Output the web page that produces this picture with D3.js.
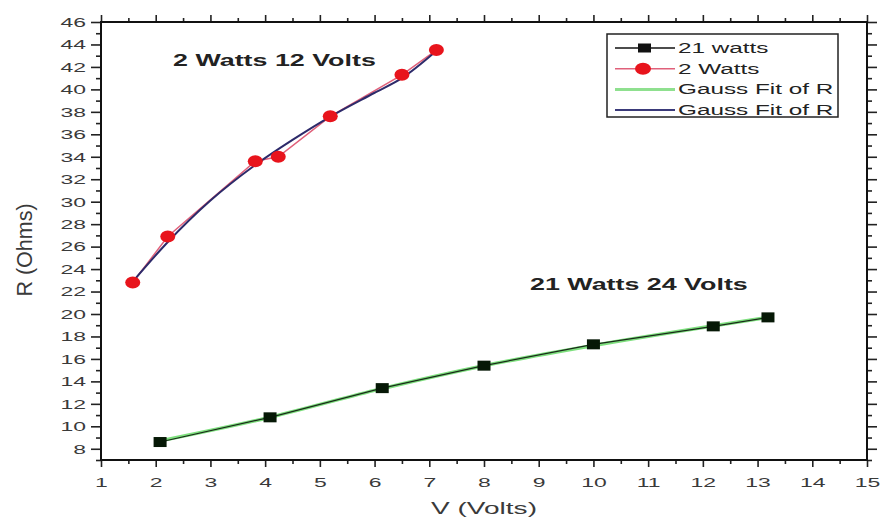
<!DOCTYPE html>
<html>
<head>
<meta charset="utf-8">
<script src="https://cdn.jsdelivr.net/npm/d3@7"></script>
<style>
  body { margin: 0; background: #fff; }
  text { font-family: Arial, "Liberation Sans", sans-serif; }
</style>
</head>
<body>
<svg id="chart" width="881" height="521"></svg>
<script>
const vWatts21 = [2.08, 4.09, 6.14, 8.0, 10.0, 12.19, 13.19];
const rWatts21 = [8.6, 10.8, 13.4, 15.4, 17.3, 18.9, 19.7];
const vWatts2 = [1.58, 2.22, 3.82, 4.24, 5.19, 6.5, 7.13];
const rWatts2 = [22.8, 26.9, 33.6, 34.0, 37.6, 41.3, 43.5];

// fitted curves
const vFit21 = [2.08, 4.0, 6.0, 8.0, 10.0, 12.0, 13.19];
const rFit21 = [8.7, 10.7, 13.2, 15.4, 17.2, 18.8, 19.7];
const vFit2 = [1.6, 2.2, 3.0, 3.8, 4.5, 5.2, 6.0, 6.5, 7.1];
const rFit2 = [23.0, 26.3, 30.1, 33.2, 35.5, 37.6, 39.7, 41.0, 43.3];

const xTicks = d3.range(1, 16);
const yTicks = d3.range(8, 47, 2);
const legendLabels = ['21 watts', '2 Watts', 'Gauss Fit of R', 'Gauss Fit of R'];

const svg = d3.select('#chart');
const plotL = 101, plotR = 867, plotT = 22, plotB = 460;
const SX = 1.7; // the source figure is stretched sideways, text too

const x = d3.scaleLinear().domain([1, 15]).range([plotL, plotR]);
const y = d3.scaleLinear().domain([7, 46]).range([plotB, plotT]);

const tickColor = '#222';
const labelColor = '#3a3a3a';

// widen text around its anchor point
function stretch(sel) {
  sel.each(function() {
    const t = d3.select(this);
    const tx = +t.attr('x') || 0, ty = +t.attr('y') || 0;
    t.attr('x', null).attr('y', null)
      .attr('transform', `translate(${tx},${ty}) scale(${SX},1)`);
  });
  return sel;
}

function drawAxis(axis, transform, showLabels) {
  const g = svg.append('g').attr('transform', transform).call(axis);
  g.select('.domain').remove();
  g.selectAll('line').attr('stroke', tickColor).attr('stroke-width', 1.6);
  g.selectAll('text').attr('font-size', 13.5).attr('fill', labelColor);
  if (!showLabels) g.selectAll('text').remove();
  else stretch(g.selectAll('text'));
  return g;
}

// minor ticks at the half steps
const xMinor = d3.range(1.5, 15, 1);
const yMinor = d3.range(7, 46, 1).filter(d => d % 2 === 1);

drawAxis(d3.axisBottom(x).tickValues(xTicks).tickSize(7).tickPadding(10).tickFormat(d3.format('d')), `translate(0,${plotB})`, true);
drawAxis(d3.axisBottom(x).tickValues(xMinor).tickSize(4), `translate(0,${plotB})`, false);
drawAxis(d3.axisTop(x).tickValues(xTicks).tickSize(7), `translate(0,${plotT})`, false);
drawAxis(d3.axisTop(x).tickValues(xMinor).tickSize(4), `translate(0,${plotT})`, false);
drawAxis(d3.axisLeft(y).tickValues(yTicks).tickSize(10).tickPadding(5).tickFormat(d3.format('d')), `translate(${plotL},0)`, true);
drawAxis(d3.axisLeft(y).tickValues(yMinor).tickSize(5), `translate(${plotL},0)`, false);
drawAxis(d3.axisRight(y).tickValues(yTicks).tickSize(10), `translate(${plotR},0)`, false);
drawAxis(d3.axisRight(y).tickValues(yMinor).tickSize(5), `translate(${plotR},0)`, false);

// frame
svg.append('rect')
  .attr('x', plotL).attr('y', plotT)
  .attr('width', plotR - plotL).attr('height', plotB - plotT)
  .attr('fill', 'none').attr('stroke', '#111').attr('stroke-width', 2);

// axis titles
stretch(svg.append('text')
  .attr('x', (plotL + plotR) / 2).attr('y', 514)
  .attr('text-anchor', 'middle').attr('font-size', 16.5).attr('fill', labelColor)
  .text('V (Volts)'));
svg.append('text')
  .attr('transform', `translate(32,250) rotate(-90)`)
  .attr('text-anchor', 'middle').attr('font-size', 21.5).attr('fill', labelColor)
  .text('R (Ohms)');

const line = d3.line().x(d => x(d[0])).y(d => y(d[1]));
const smooth = d3.line().x(d => x(d[0])).y(d => y(d[1])).curve(d3.curveMonotoneX);

const d21 = vWatts21.map((v, i) => [v, rWatts21[i]]);
const d2 = vWatts2.map((v, i) => [v, rWatts2[i]]);
const f21 = vFit21.map((v, i) => [v, rFit21[i]]);
const f2 = vFit2.map((v, i) => [v, rFit2[i]]);

// green fit under black series
svg.append('path').attr('d', smooth(f21))
  .attr('fill', 'none').attr('stroke', '#7ee07e').attr('stroke-width', 3.5);
svg.append('path').attr('d', line(d21))
  .attr('fill', 'none').attr('stroke', '#1a2a1a').attr('stroke-width', 1.2);
svg.selectAll('.sq').data(d21).enter().append('rect')
  .attr('x', d => x(d[0]) - 6.5).attr('y', d => y(d[1]) - 5)
  .attr('width', 13).attr('height', 10)
  .attr('fill', '#061806');

// red series and navy fit
svg.append('path').attr('d', line(d2))
  .attr('fill', 'none').attr('stroke', '#e0607a').attr('stroke-width', 1.5);
svg.append('path').attr('d', smooth(f2))
  .attr('fill', 'none').attr('stroke', '#2d2a6a').attr('stroke-width', 2);
svg.selectAll('.dot').data(d2).enter().append('ellipse')
  .attr('cx', d => x(d[0])).attr('cy', d => y(d[1]))
  .attr('rx', 7.5).attr('ry', 6)
  .attr('fill', '#e8141c');

// annotations
stretch(svg.append('text').attr('x', 173).attr('y', 66)
  .attr('font-size', 15.8).attr('font-weight', 'bold').attr('fill', '#222')
  .text('2 Watts 12 Volts'));
stretch(svg.append('text').attr('x', 530).attr('y', 290)
  .attr('font-size', 15.8).attr('font-weight', 'bold').attr('fill', '#222')
  .text('21 Watts 24 Volts'));

// legend
const lg = svg.append('g');
lg.append('rect').attr('x', 607).attr('y', 34).attr('width', 231).attr('height', 83)
  .attr('fill', '#fff').attr('stroke', '#222').attr('stroke-width', 1.5);
const legendStyles = [
  { stroke: '#111', width: 1.5, marker: 'square' },
  { stroke: '#e0607a', width: 1.5, marker: 'circle' },
  { stroke: '#8fe08f', width: 3, marker: null },
  { stroke: '#3a3a7a', width: 2, marker: null }
];
legendLabels.forEach((label, i) => {
  const cy = 48 + i * 20.7;
  const s = legendStyles[i];
  lg.append('line').attr('x1', 615).attr('x2', 675).attr('y1', cy).attr('y2', cy)
    .attr('stroke', s.stroke).attr('stroke-width', s.width);
  if (s.marker === 'square') {
    lg.append('rect').attr('x', 638).attr('y', cy - 4.5).attr('width', 13).attr('height', 9).attr('fill', '#111');
  } else if (s.marker === 'circle') {
    lg.append('ellipse').attr('cx', 643).attr('cy', cy).attr('rx', 8).attr('ry', 6).attr('fill', '#e8141c');
  }
  stretch(lg.append('text').attr('x', 678).attr('y', cy + 5)
    .attr('font-size', 14.3).attr('fill', '#222').text(label));
});
</script>
</body>
</html>
